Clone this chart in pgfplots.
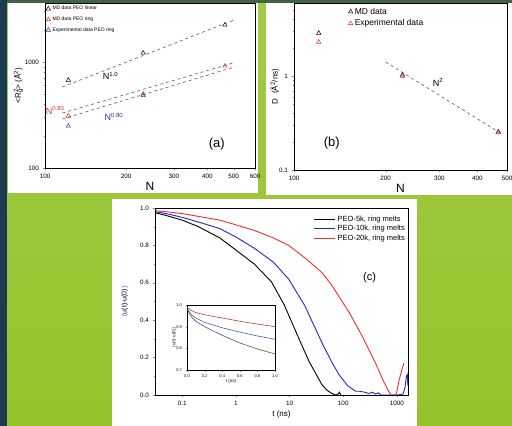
\documentclass[border=0pt]{standalone}
\usepackage{fontspec}
\setmainfont{Liberation Sans}
\usepackage{pgfplots}
\pgfplotsset{compat=1.18}
\definecolor{bggreenA}{RGB}{163,203,72}
\definecolor{bggreenB}{RGB}{150,194,44}
\definecolor{navy}{RGB}{28,58,80}
\definecolor{mdred}{RGB}{214,52,70}
\definecolor{mdblue}{RGB}{48,56,168}
\definecolor{cblue}{RGB}{40,40,200}
\definecolor{cred}{RGB}{232,50,50}
\definecolor{fitgray}{RGB}{90,90,90}
\pgfplotsset{
  every axis/.append style={
    /pgf/number format/assume math mode=true,
    tick label style={font=\fontsize{6.3}{7}\selectfont},
    tick align=outside, xtick pos=bottom, ytick pos=left,
    axis line style={line width=0.6pt},
    major tick length=2.5pt, minor tick length=1.5pt,
  },
}
\begin{document}
\begin{tikzpicture}
\path[use as bounding box] (0pt,0pt) rectangle (512pt,426pt);
\shade[top color=bggreenA, bottom color=bggreenB] (0pt,0pt) rectangle (512pt,426pt);
\fill[navy] (0pt,0pt) rectangle (7pt,426pt);
\fill[navy!70!bggreenB] (7pt,423pt) rectangle (512pt,426pt);
\fill[white] (8pt,233pt) rectangle (258pt,423pt);
\fill[white] (266pt,231pt) rectangle (512pt,423pt);
\fill[white] (112pt,0pt) rectangle (417pt,227pt);

% ---------- (a) ----------
\begin{axis}[at={(45pt,258pt)}, anchor=south west, scale only axis,
  width=210pt, height=165pt,
  xmode=log, ymode=log, xmin=100, xmax=600, ymin=100, ymax=3600,
  xtick={100,200,300,400,500,600}, xticklabels={100,200,300,400,500,600},
  ytick={100,1000}, yticklabels={100,1000},
  minor ytick={200,300,400,500,600,700,800,900,2000,3000},
  xlabel={N}, xlabel style={font=\fontsize{12}{14}\selectfont, yshift=3pt},
  ylabel={<R\rlap{\textsuperscript{2}}\textsubscript{g}> (Å\textsuperscript{2})},
  ylabel style={font=\fontsize{8}{10}\selectfont, yshift=-5pt},
  legend style={draw=none, fill=none, at={(0,1)}, anchor=north west,
    font=\fontsize{5}{6}\selectfont, row sep=1.5pt, inner sep=1pt},
  legend cell align=left,
]
\addplot[only marks, mark=triangle, mark size=2.5pt, black, mark options={line width=0.5pt}]
  coordinates {(122,676) (231,1216) (464,2234)};
\addlegendentry{MD data PEO linear}
\addplot[only marks, mark=triangle, mark size=2.5pt, mdred, mark options={line width=0.5pt}]
  coordinates {(122,309) (231,499) (464,917)};
\addlegendentry{MD data PEO ring}
\addplot[only marks, mark=triangle, mark size=2.5pt, mdblue, mark options={line width=0.5pt}]
  coordinates {(122,249) (231,485)};
\addlegendentry{Experimental data PEO ring}
\addplot[forget plot, fitgray, dashed, line width=0.6pt] coordinates {(116,581) (502,2490)};
\addplot[forget plot, fitgray, dashed, line width=0.6pt] coordinates {(116,330) (506,990)};
\addplot[forget plot, fitgray, dashed, line width=0.6pt] coordinates {(116,290) (506,900)};
\node[font=\fontsize{9}{10}\selectfont] at (axis cs:175,738) {N\textsuperscript{1.0}};
\node[font=\fontsize{9}{10}\selectfont, text=mdred] at (axis cs:109,352) {N\textsuperscript{0.83}};
\node[font=\fontsize{9}{10}\selectfont, text=mdblue] at (axis cs:180,303) {N\textsuperscript{0.80}};
\node[font=\fontsize{13}{15}\selectfont] at (axis cs:433,168) {(a)};
\end{axis}

% ---------- (b) ----------
\begin{axis}[at={(294pt,256pt)}, anchor=south west, scale only axis,
  width=213pt, height=167pt,
  xmode=log, ymode=log, xmin=100, xmax=500, ymin=0.1, ymax=6,
  xtick={100,200,300,400,500}, xticklabels={100,200,300,400,500},
  ytick={0.1,1}, yticklabels={0.1,1},
  minor ytick={0.2,0.3,0.4,0.5,0.6,0.7,0.8,0.9,2,3,4,5},
  xlabel={N}, xlabel style={font=\fontsize{12}{14}\selectfont, yshift=3pt},
  ylabel={D\ \ (Å\textsuperscript{2}/ns)},
  ylabel style={font=\fontsize{8}{10}\selectfont, yshift=-7pt},
  legend style={draw=none, fill=none, at={(0.25,0.99)}, anchor=north west,
    font=\fontsize{8.5}{10}\selectfont, row sep=0pt, inner sep=1pt},
  legend cell align=left,
]
\addplot[only marks, mark=triangle, mark size=2.5pt, black, mark options={line width=0.5pt}]
  coordinates {(120.5,2.87) (227,1.03) (468,0.255)};
\addlegendentry{MD data}
\addplot[only marks, mark=triangle, mark size=2.5pt, mdred, mark options={line width=0.5pt}]
  coordinates {(120.5,2.30) (227,1.0) (468,0.25)};
\addlegendentry{Experimental data}
\addplot[forget plot, fitgray, dashed, line width=0.6pt] coordinates {(200,1.41) (475,0.248)};
\node[font=\fontsize{9}{10}\selectfont] at (axis cs:297,0.86) {N\textsuperscript{2}};
\node[font=\fontsize{13}{15}\selectfont] at (axis cs:133,0.194) {(b)};
\end{axis}

% ---------- (c) ----------
\begin{axis}[at={(155pt,31pt)}, anchor=south west, scale only axis,
  width=253pt, height=187pt,
  xmode=log, xmin=0.031, xmax=1610, ymin=0, ymax=1,
  axis on top,
  xtick={0.1,1,10,100,1000}, xticklabels={0.1,1,10,100,1000},
  minor xtick={0.04,0.05,0.06,0.07,0.08,0.09,0.2,0.3,0.4,0.5,0.6,0.7,0.8,0.9,
    2,3,4,5,6,7,8,9,20,30,40,50,60,70,80,90,200,300,400,500,600,700,800,900},
  ytick={0,0.2,0.4,0.6,0.8,1}, yticklabels={0.0,0.2,0.4,0.6,0.8,1.0},
  minor ytick={0.1,0.3,0.5,0.7,0.9},
  xlabel={t (ns)}, xlabel style={font=\fontsize{8}{10}\selectfont, yshift=2pt},
  ylabel={$\langle$u(t)·u(0)$\rangle$},
  ylabel style={font=\fontsize{7}{9}\selectfont, yshift=5pt},
  legend style={draw=none, fill=none, at={(1,0.975)}, anchor=north east,
    font=\fontsize{7.5}{9}\selectfont, row sep=-1.5pt, inner sep=1pt},
  legend cell align=left,
  legend image code/.code={\draw[#1, line width=1pt] (0pt,0pt) -- (21pt,0pt);},
]
\addplot[black, line width=0.9pt] coordinates {
 (0.031,0.975) (0.05,0.96) (0.1,0.935) (0.2,0.9) (0.5,0.84) (1,0.775)
 (2.2,0.70) (4.6,0.605) (8,0.48) (15,0.30) (23,0.18) (30,0.12) (40,0.055)
 (50,0.025) (60,0.01) (70,0.0) (80,0.005) (85,0.015) (90,0.0)};
\addlegendentry{PEO-5k, ring melts}
\addplot[cblue, line width=0.9pt] coordinates {
 (0.031,0.98) (0.05,0.97) (0.1,0.95) (0.2,0.925) (0.5,0.89) (1,0.845)
 (2.2,0.785) (5,0.71) (9.6,0.62) (19,0.48) (40,0.28) (60,0.18) (83,0.11)
 (120,0.05) (170,0.02) (200,0.02) (250,0.015) (300,0.008) (350,0.015)
 (400,0.005) (450,0.012) (500,0.0) (700,0.0) (1000,0.0) (1300,0.005)
 (1420,0.04) (1500,0.1) (1560,0.11) (1600,0.05)};
\addlegendentry{PEO-10k, ring melts}
\addplot[cred, line width=0.9pt] coordinates {
 (0.031,0.985) (0.05,0.98) (0.1,0.97) (0.2,0.955) (0.5,0.935) (1,0.91)
 (2.2,0.88) (5,0.84) (9.6,0.80) (20,0.73) (40,0.655) (60,0.59) (130,0.44)
 (230,0.31) (400,0.17) (550,0.08) (700,0.02) (780,0.0) (950,0.0)
 (1000,0.02) (1100,0.08) (1250,0.14) (1350,0.17)};
\addlegendentry{PEO-20k, ring melts}
\node[font=\fontsize{11}{13}\selectfont] at (axis cs:310,0.63) {(c)};
\end{axis}

% ---------- inset ----------
\begin{axis}[at={(187pt,56pt)}, anchor=south west, scale only axis,
  width=88pt, height=65pt,
  xmin=0, xmax=1, ymin=0.7, ymax=1,
  tick label style={font=\fontsize{4}{5}\selectfont},
  axis line style={line width=0.4pt},
  major tick length=1.5pt,
  xtick={0,0.2,0.4,0.6,0.8,1}, xticklabels={0.0,0.2,0.4,0.6,0.8,1.0},
  ytick={0.7,0.8,0.9,1}, yticklabels={0.7,0.8,0.9,1.0},
  xlabel={t (ns)}, xlabel style={font=\fontsize{4.5}{5}\selectfont, yshift=5pt},
  ylabel={$\langle$u(t)·u(0)$\rangle$},
  ylabel style={font=\fontsize{4.5}{5}\selectfont, yshift=-7pt},
]
\addplot[cred!70!black, line width=0.5pt] coordinates {
 (0,0.99) (0.05,0.975) (0.1,0.965) (0.2,0.955) (0.4,0.94) (0.6,0.925) (0.8,0.912) (1,0.90)};
\addplot[mdblue, line width=0.5pt] coordinates {
 (0,0.985) (0.05,0.955) (0.1,0.94) (0.2,0.92) (0.4,0.895) (0.6,0.875) (0.8,0.857) (1,0.842)};
\addplot[black!75, line width=0.5pt] coordinates {
 (0,0.98) (0.05,0.945) (0.1,0.925) (0.2,0.9) (0.4,0.86) (0.6,0.825) (0.8,0.797) (1,0.774)};
\end{axis}
\end{tikzpicture}
\end{document}
